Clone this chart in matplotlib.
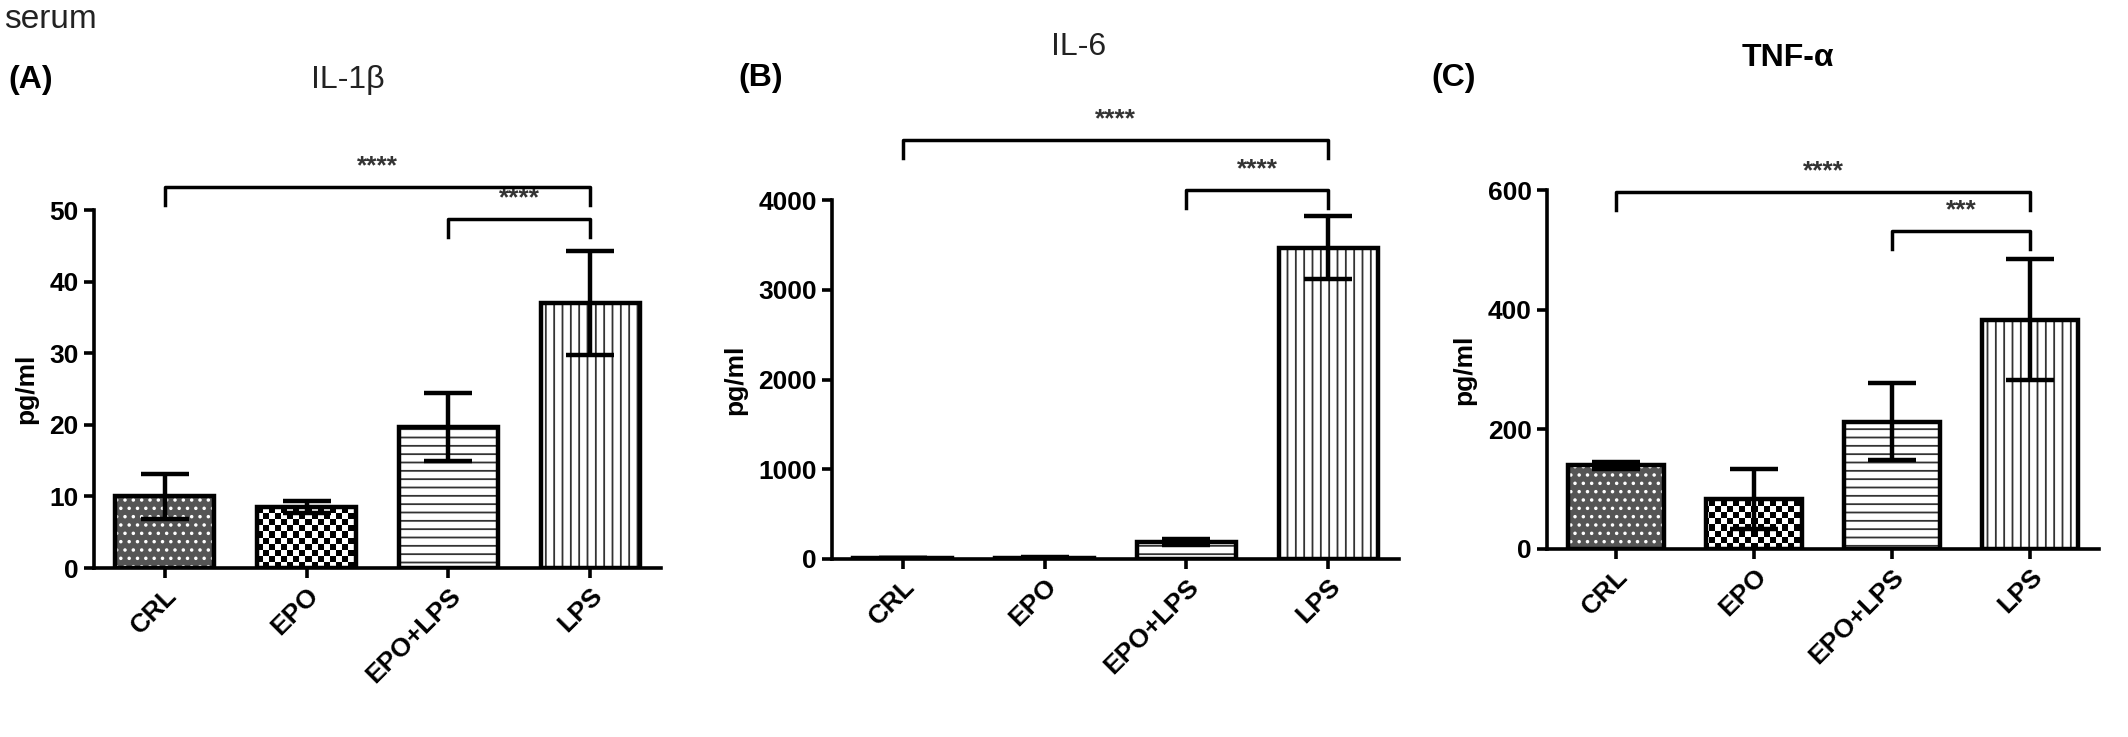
import matplotlib
matplotlib.use("Agg")
import matplotlib.pyplot as plt
import numpy as np

plt.rcParams['font.family'] = ['Liberation Sans', 'DejaVu Sans']
plt.rcParams['hatch.linewidth'] = 1.3

groups = ["CRL", "EPO", "EPO+LPS", "LPS"]

il1b_mean = [10.0, 8.5, 19.7, 37.0]
il1b_err = [3.1, 0.8, 4.7, 7.3]
il6_mean = [12, 15, 190, 3470]
il6_err = [3, 3, 30, 350]
tnf_mean = [140, 83, 213, 383]
tnf_err = [6, 50, 65, 101]

# brackets: (from group, to group, height, tip drop, stars)
il1b_brackets = [(0, 3, 53.2, 2.5, "****"), (2, 3, 48.7, 2.5, "****")]
il6_brackets = [(0, 3, 4670, 200, "****"), (2, 3, 4110, 200, "****")]
tnf_brackets = [(0, 3, 596, 30, "****"), (2, 3, 531, 30, "***")]

W, H = 2128, 737
fig = plt.figure(figsize=(W / 100, H / 100), dpi=100)


def px_axes(l, r, b, t):
    return fig.add_axes([l / W, 1 - b / H, (r - l) / W, (b - t) / H])


def checker(ax, bar, size=6):
    wpx = ax.bbox.width
    hpx = ax.bbox.height
    nx, ny = int(wpx / size), int(hpx / size)
    img = (np.add.outer(np.arange(ny), np.arange(nx)) % 2).astype(float)
    im = ax.imshow(img, cmap='gray', extent=[0, 1, 0, 1], transform=ax.transAxes,
                   interpolation='nearest', aspect='auto', zorder=1.5)
    im.set_clip_path(bar)


def panel(ax, means, errs, ylim, yticks, brackets):
    x = np.arange(len(groups))
    bw = 0.7
    # CRL: dark grey with white dots
    ax.bar(x[0], means[0], bw, color='#555555', edgecolor='white', hatch='..',
           linewidth=0, zorder=1)
    # EPO: checkerboard
    b1 = ax.bar(x[1], means[1], bw, color='white', linewidth=0, zorder=1)
    # EPO+LPS: horizontal lines, LPS: vertical lines
    ax.bar(x[2], means[2], bw, color='white', edgecolor='#333333', hatch='--',
           linewidth=0, zorder=1)
    ax.bar(x[3], means[3], bw, color='white', edgecolor='#333333', hatch='||',
           linewidth=0, zorder=1)
    ax.set_xlim(-0.5, 3.5)
    ax.set_ylim(*ylim)
    checker(ax, b1.patches[0])
    ax.bar(x, means, bw, facecolor='none', edgecolor='black', linewidth=3.2, zorder=2)
    ax.errorbar(x, means, yerr=errs, fmt='none', ecolor='black', elinewidth=3.2,
                capsize=17, capthick=3.2, zorder=3)
    for a, b, h, d, s in brackets:
        ax.plot([x[a], x[a], x[b], x[b]], [h - d, h, h, h - d], color='black', lw=2.5,
                clip_on=False, zorder=4)
        ax.text((x[a] + x[b]) / 2, h + d * 0.5, s, ha='center', va='bottom',
                fontsize=19, fontweight='bold', color='#333333')
    ax.set_yticks(yticks)
    ax.set_xticks(x)
    ax.set_xticklabels(groups, rotation=45, ha='right', rotation_mode='anchor',
                       fontsize=19, fontweight='bold')
    for lab in ax.get_yticklabels():
        lab.set_fontsize(19)
        lab.set_fontweight('bold')
    ax.spines['top'].set_visible(False)
    ax.spines['right'].set_visible(False)
    ax.spines['left'].set_linewidth(2.6)
    ax.spines['bottom'].set_linewidth(2.6)
    ax.tick_params(axis='both', width=2.6, length=7, direction='out', pad=4)
    ax.set_ylabel("pg/ml", fontsize=19, fontweight='bold', labelpad=8)


axA = px_axes(94, 661, 568, 210)
panel(axA, il1b_mean, il1b_err, (0, 50), [0, 10, 20, 30, 40, 50], il1b_brackets)
axB = px_axes(832, 1399, 559, 200)
panel(axB, il6_mean, il6_err, (0, 4000), [0, 1000, 2000, 3000, 4000], il6_brackets)
axC = px_axes(1547, 2099, 549, 190)
panel(axC, tnf_mean, tnf_err, (0, 600), [0, 200, 400, 600], tnf_brackets)

fig.text(4 / W, 1 - 19 / H, "serum", fontsize=24, va='center', ha='left', color='#222222')
fig.text(8 / W, 1 - 80 / H, "(A)", fontsize=23, fontweight='bold', va='center', ha='left')
fig.text(348 / W, 1 - 80 / H, "IL-1β", fontsize=23, va='center', ha='center', color='#222222')
fig.text(738 / W, 1 - 78 / H, "(B)", fontsize=23, fontweight='bold', va='center', ha='left')
fig.text(1079 / W, 1 - 47 / H, "IL-6", fontsize=23, va='center', ha='center', color='#222222')
fig.text(1431 / W, 1 - 78 / H, "(C)", fontsize=23, fontweight='bold', va='center', ha='left')
fig.text(1788 / W, 1 - 58 / H, "TNF-α", fontsize=23, fontweight='bold', va='center', ha='center')

fig.savefig("out.png", dpi=100, facecolor='white')
